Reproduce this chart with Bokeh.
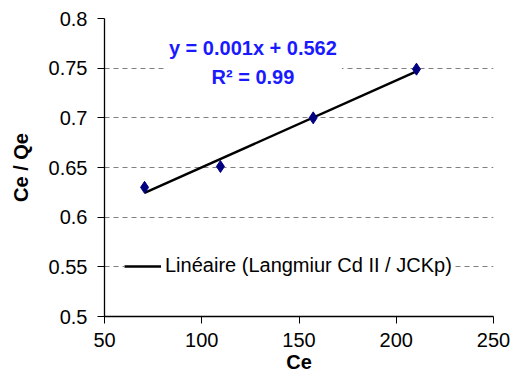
import numpy as np
from bokeh.plotting import figure
from bokeh.models import FixedTicker, Label, Legend, LegendItem
from bokeh.embed import file_html
from bokeh.resources import INLINE

# Data
ce = [70.6, 109.6, 157.3, 210.4]
ce_qe = [0.630, 0.651, 0.700, 0.749]

x_ticks = [50, 100, 150, 200, 250]
x_tick_labels = ["50", "100", "150", "200", "250"]
y_ticks = [0.5, 0.55, 0.6, 0.65, 0.7, 0.75, 0.8]
y_tick_labels = ["0.5", "0.55", "0.6", "0.65", "0.7", "0.75", "0.8"]

equation_text = "y = 0.001x + 0.562\nR\u00b2 = 0.99"
legend_text = "Lin\u00e9aire (Langmiur Cd II / JCKp)"
x_title = "Ce"
y_title = "Ce / Qe"

FONT = "Liberation Sans"
FS = "20px"

# linear trendline (least squares) from the data
slope, intercept = np.polyfit(ce, ce_qe, 1)
fit_x = [min(ce), max(ce)]
fit_y = [slope * v + intercept for v in fit_x]

p = figure(width=516, height=380, output_backend="svg", toolbar_location=None,
           x_range=(50, 250), y_range=(0.5, 0.8),
           min_border_left=104, min_border_right=23,
           min_border_top=18, min_border_bottom=64)
p.outline_line_color = None
p.background_fill_color = "white"
p.border_fill_color = "white"

# axes
for ax, ticks, labels in ((p.xaxis[0], x_ticks, x_tick_labels),
                          (p.yaxis[0], y_ticks, y_tick_labels)):
    ax.ticker = FixedTicker(ticks=ticks)
    ax.major_label_overrides = {t: l for t, l in zip(ticks, labels)}
    ax.minor_tick_line_color = None
    ax.major_tick_in = 0
    ax.major_tick_out = 7
    ax.axis_line_color = "black"
    ax.axis_line_width = 1.3
    ax.major_tick_line_color = "black"
    ax.major_label_text_font = FONT
    ax.major_label_text_font_size = FS
    ax.major_label_text_color = "black"
    ax.axis_label_text_font = FONT
    ax.axis_label_text_font_size = FS
    ax.axis_label_text_font_style = "bold"
    ax.axis_label_text_color = "black"

p.xaxis.axis_label = x_title
p.yaxis.axis_label = y_title
p.xaxis.major_label_standoff = 9
p.yaxis.major_label_standoff = 10
p.xaxis.axis_label_standoff = 1
p.yaxis.axis_label_standoff = 14

p.xgrid.grid_line_color = None
p.ygrid.ticker = FixedTicker(ticks=y_ticks[1:])
p.ygrid.grid_line_color = "#808080"
p.ygrid.grid_line_dash = "5 4"
p.ygrid.grid_line_width = 1

# trendline
fit_r = p.line(fit_x, fit_y, line_color="black", line_width=2.5)

# data points
p.scatter(ce, ce_qe, marker="diamond", size=12, fill_color="#000080",
          line_color="#000080")

# equation label
lab = Label(x=126.3, y=0.7555, text=equation_text, text_align="center",
            text_baseline="middle", text_font=FONT, text_font_size=FS,
            text_font_style="bold", text_color="#1a1aff",
            background_fill_color="white", padding=5, text_line_height=1.3)
p.add_layout(lab)

legend = Legend(items=[LegendItem(label=legend_text, renderers=[fit_r])],
                location=(20, 39), padding=20, margin=0, spacing=0,
                label_standoff=4, glyph_width=37, glyph_height=22,
                label_height=22, border_line_color=None,
                background_fill_color="white", background_fill_alpha=1,
                label_text_font=FONT, label_text_font_size=FS,
                label_text_color="black")
p.add_layout(legend)

open("out.html", "w").write(file_html(p, INLINE))
